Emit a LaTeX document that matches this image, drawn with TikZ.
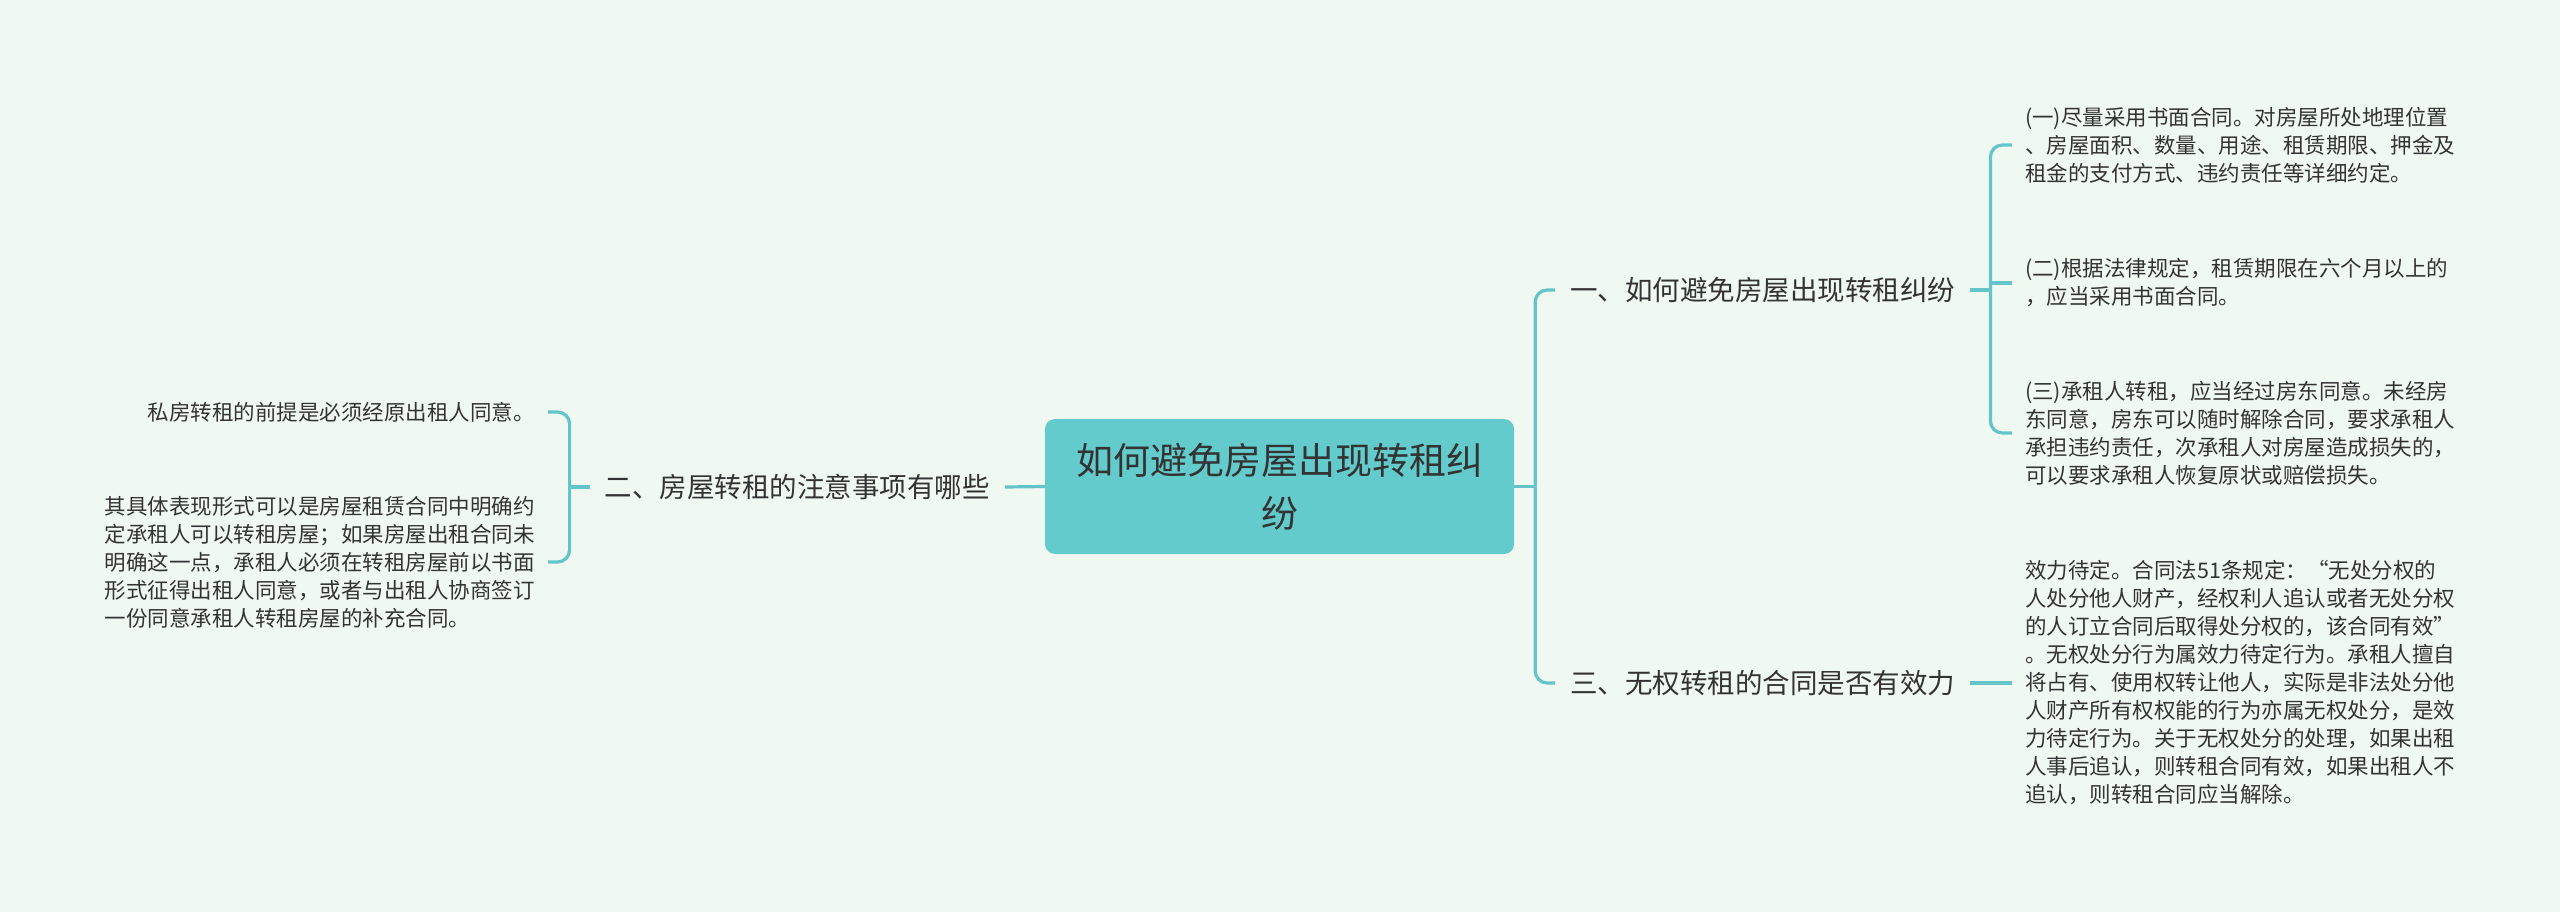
\documentclass[tikz,border=0pt]{standalone}
\usepackage{fontspec}
\setmainfont{Noto Sans CJK SC}
\usetikzlibrary{positioning}
\definecolor{bgmint}{HTML}{F0F9F1}
\definecolor{tealline}{HTML}{63C5C9}
\definecolor{tealfill}{HTML}{64CBCD}
\definecolor{inkgray}{HTML}{333333}

\begin{document}
\begin{tikzpicture}[x=1pt, y=-1pt,
  link/.style={draw=tealline, line width=3.2pt},
  elbowlink/.style={link, rounded corners=12pt},
  rootbox/.style={fill=tealfill, rounded corners=10pt, minimum width=469pt, minimum height=135pt, align=center, text=inkgray, font=\fontsize{37}{53}\selectfont},
  branch/.style={inner xsep=15pt, inner ysep=0pt, text=inkgray, font=\fontsize{27.5}{33}\selectfont},
  leaf/.style={inner xsep=13pt, inner ysep=0pt, align=left, text=inkgray, font=\fontsize{21.5}{28}\selectfont}]
  % Background
  \fill[bgmint] (0,0) rectangle (2560,912);

  % Central topic
  \node[rootbox] (root) at (1279.5,486.5) {如何避免房屋出现转租纠\\纷};

  % Main branches
  \node[branch, anchor=west] (b1) at (1555,290) {一、如何避免房屋出现转租纠纷};
  \node[branch, anchor=east] (b2) at (1005,487) {二、房屋转租的注意事项有哪些};
  \node[branch, anchor=west] (b3) at (1555,683) {三、无权转租的合同是否有效力};

  % Details of branch one
  \node[leaf, anchor=west] (l1) at (2012,145) {(一)尽量采用书面合同。对房屋所处地理位置\\、房屋面积、数量、用途、租赁期限、押金及\\租金的支付方式、违约责任等详细约定。};
  \node[leaf, anchor=west] (l2) at (2012,283) {(二)根据法律规定，租赁期限在六个月以上的\\，应当采用书面合同。};
  \node[leaf, anchor=west] (l3) at (2012,433) {(三)承租人转租，应当经过房东同意。未经房\\东同意，房东可以随时解除合同，要求承租人\\承担违约责任，次承租人对房屋造成损失的，\\可以要求承租人恢复原状或赔偿损失。};

  % Details of branch three
  \node[leaf, anchor=west] (l4) at (2012,683) {效力待定。合同法51条规定：“无处分权的\\人处分他人财产，经权利人追认或者无处分权\\的人订立合同后取得处分权的，该合同有效”\\。无权处分行为属效力待定行为。承租人擅自\\将占有、使用权转让他人，实际是非法处分他\\人财产所有权权能的行为亦属无权处分，是效\\力待定行为。关于无权处分的处理，如果出租\\人事后追认，则转租合同有效，如果出租人不\\追认，则转租合同应当解除。};

  % Details of branch two
  \node[leaf, anchor=east] (m1) at (548,412) {　　私房转租的前提是必须经原出租人同意。};
  \node[leaf, anchor=east] (m2) at (548,562) {其具体表现形式可以是房屋租赁合同中明确约\\定承租人可以转租房屋；如果房屋出租合同未\\明确这一点，承租人必须在转租房屋前以书面\\形式征得出租人同意，或者与出租人协商签订\\一份同意承租人转租房屋的补充合同。};

  % Connectors right of the root
  \draw[link] (root.east) -- ++(21,0) coordinate (rj);
  \draw[elbowlink] (rj) |- (b1.west);
  \draw[elbowlink] (rj) |- (b3.west);

  % Connectors of branch one
  \draw[link] (b1.east) -- ++(20,0) coordinate (sj);
  \draw[elbowlink] (sj) |- (l1.west);
  \draw[elbowlink] (sj) |- (l3.west);
  \draw[link] (sj |- l2.west) -- (l2.west);

  % Connector of branch three
  \draw[link] (b3.east) -- (l4.west);

  % Connectors left of the root
  \draw[link] (root.west) -- (b2.east);
  \draw[link] (b2.west) -- ++(-20,0) coordinate (lj);
  \draw[elbowlink] (lj) |- (m1.east);
  \draw[elbowlink] (lj) |- (m2.east);
\end{tikzpicture}
\end{document}
